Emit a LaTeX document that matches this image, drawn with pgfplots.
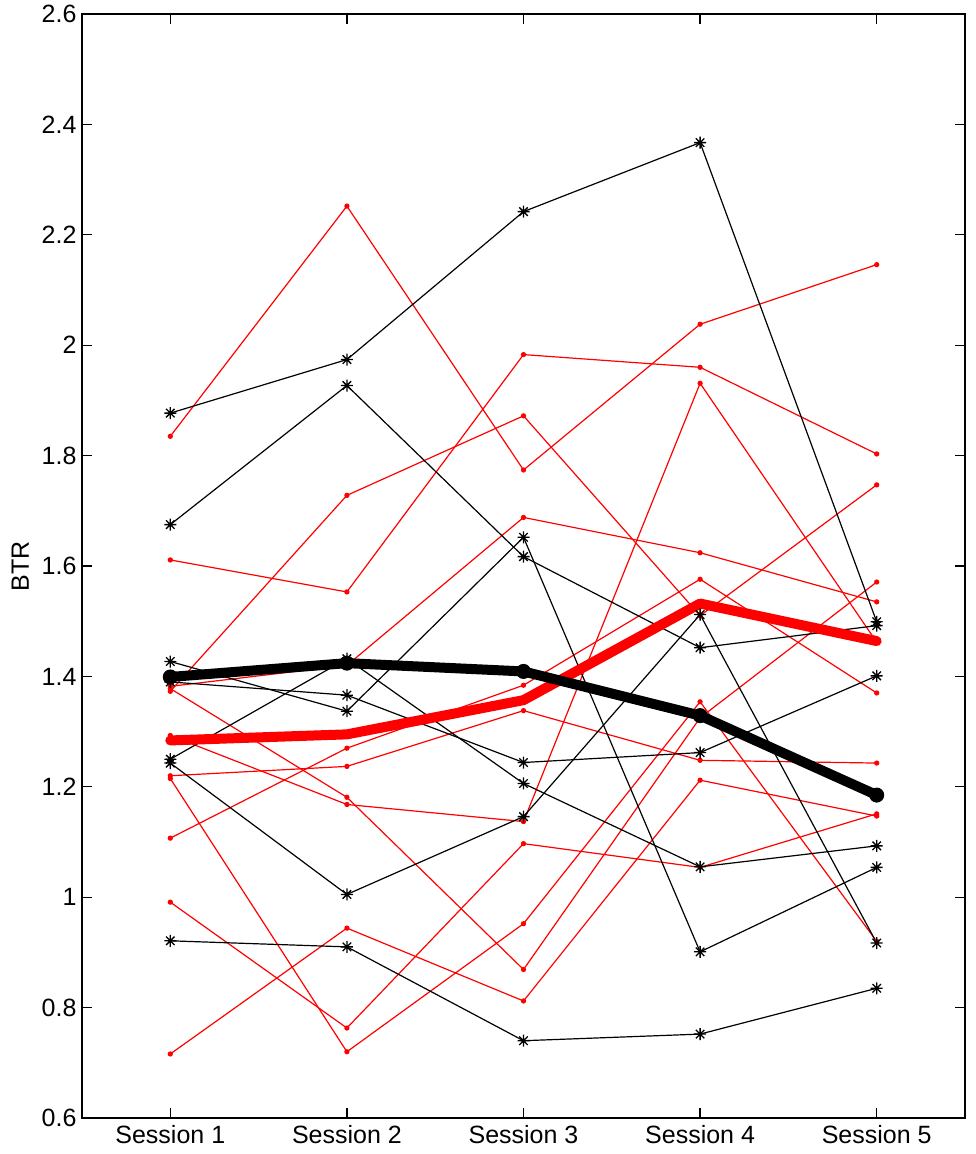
\documentclass[border=0pt]{standalone}
\usepackage{fontspec}
\setmainfont{Liberation Sans}
\usepackage{pgfplots}
\usepackage{pgfplotstable}
\pgfplotsset{compat=1.18}

% MATLAB-style asterisk: a plus and a cross on top of each other
\pgfdeclareplotmark{matstar}{%
  \pgfpathmoveto{\pgfqpoint{-\pgfplotmarksize}{0pt}}%
  \pgfpathlineto{\pgfqpoint{\pgfplotmarksize}{0pt}}%
  \pgfpathmoveto{\pgfqpoint{0pt}{-\pgfplotmarksize}}%
  \pgfpathlineto{\pgfqpoint{0pt}{\pgfplotmarksize}}%
  \pgfpathmoveto{\pgfqpoint{-0.707\pgfplotmarksize}{-0.707\pgfplotmarksize}}%
  \pgfpathlineto{\pgfqpoint{0.707\pgfplotmarksize}{0.707\pgfplotmarksize}}%
  \pgfpathmoveto{\pgfqpoint{-0.707\pgfplotmarksize}{0.707\pgfplotmarksize}}%
  \pgfpathlineto{\pgfqpoint{0.707\pgfplotmarksize}{-0.707\pgfplotmarksize}}%
  \pgfusepathqstroke
}

% Black group (asterisks): columns are subjects
\pgfplotstableread{
s  A     B     C     D     E     F     G
1  1.877 1.675 1.427 1.390 1.250 1.243 0.921
2  1.974 1.927 1.337 1.366 1.432 1.005 0.910
3  2.242 1.617 1.652 1.244 1.206 1.146 0.740
4  2.367 1.452 0.901 1.262 1.055 1.512 0.752
5  1.499 1.492 1.054 1.401 1.093 0.917 0.835
}\blackdata

% Red group (dots)
\pgfplotstableread{
s  R1    R2    R3    R4    R5    R6    R7    R8    R9    R10   R11
1  1.835 1.611 1.382 1.373 1.378 1.293 1.220 1.215 1.107 0.991 0.716
2  2.252 1.553 1.420 1.728 1.181 1.168 1.237 0.720 1.270 0.763 0.944
3  1.774 1.983 1.688 1.872 0.869 1.137 1.338 0.952 1.384 1.097 0.812
4  2.038 1.960 1.624 1.510 1.325 1.931 1.248 1.354 1.576 1.054 1.212
5  2.146 1.803 1.535 1.747 1.571 1.462 1.243 0.920 1.370 1.151 1.147
}\reddata

% Group means
\pgfplotstableread{
s  bm    rm
1  1.399 1.284
2  1.424 1.295
3  1.409 1.357
4  1.329 1.532
5  1.185 1.464
}\meandata

\begin{document}
\begin{tikzpicture}
\begin{axis}[
  name=ax,
  scale only axis,
  width=883pt, height=1104pt,
  xmin=0.5, xmax=5.5,
  ymin=0.6, ymax=2.6,
  xtick={1,2,3,4,5},
  xticklabels={Session 1,Session 2,Session 3,Session 4,Session 5},
  ytick={0.6,0.8,...,2.61},
  yticklabel style={/pgf/number format/fixed},
  /pgf/number format/assume math mode=true,
  tick align=inside,
  major tick length=10pt,
  axis line style={line width=1.3pt},
  every tick/.style={line width=1.3pt, black},
  ticklabel style={font=\fontsize{25}{30}\selectfont},
  xticklabel style={yshift=-4pt},
  yticklabel style={xshift=-2pt},
  ylabel={BTR},
  ylabel style={font=\fontsize{25}{30}\selectfont, yshift=6pt},
  clip=false,
]
\pgfplotsinvokeforeach{R1,R2,R3,R4,R5,R6,R7,R8,R9,R10,R11}{
  \addplot[red, line width=1.2pt, mark=*, mark size=2pt, mark options={solid}]
    table[x=s, y=#1]{\reddata};
}
\pgfplotsinvokeforeach{A,B,C,D,E,F,G}{
  \addplot[black, line width=1.2pt, mark=matstar, mark size=6pt, mark options={line width=1.3pt}]
    table[x=s, y=#1]{\blackdata};
}
\addplot[red, line width=10pt, line join=round, line cap=round, mark=none]
  table[x=s, y=rm]{\meandata};
\addplot[black, line width=10pt, line join=round, line cap=round, mark=*, mark size=7pt, mark options={line width=1pt}]
  table[x=s, y=bm]{\meandata};
\end{axis}
\pgfresetboundingbox
\path (ax.south west) ++(-82pt,-36pt) rectangle ++(975pt,1154pt);
\end{tikzpicture}
\end{document}
